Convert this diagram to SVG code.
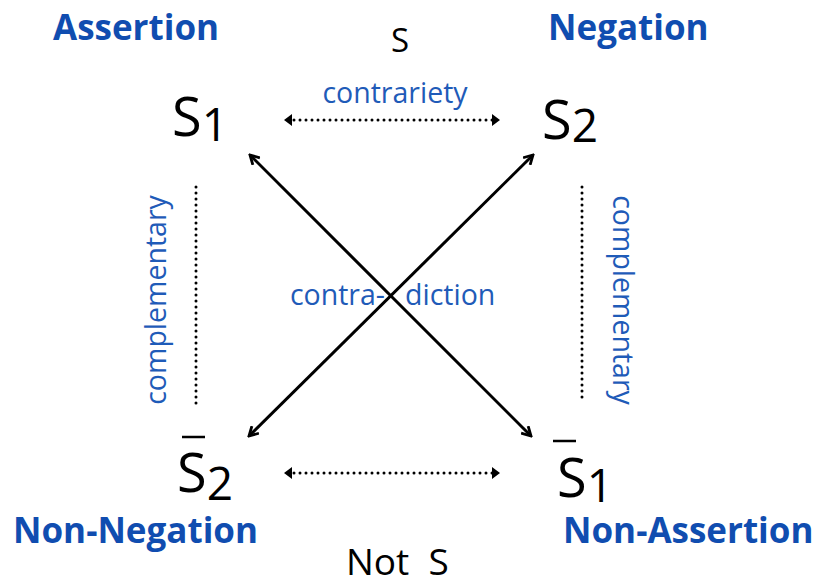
<svg xmlns="http://www.w3.org/2000/svg" width="819" height="580" viewBox="0 0 819 580">
<defs>
<style>
.title{font-family:"Open Sans","Noto Sans",sans-serif;font-weight:bold;font-size:35px;fill:#104db0}
.lab{font-family:"Open Sans","Noto Sans",sans-serif;font-size:28.5px;fill:#1f5bb8}
.sym{font-family:"Open Sans","Noto Sans",sans-serif;fill:#000}
.dot{stroke:#000;stroke-width:3;stroke-linecap:round;stroke-dasharray:0 6;fill:none}
.arr{stroke:#000;stroke-width:3;fill:none}
</style>
<marker id="open" viewBox="0 0 12 12" refX="10" refY="6" markerWidth="12" markerHeight="12" markerUnits="userSpaceOnUse" orient="auto-start-reverse">
<path d="M1,1 L10,6 L1,11" fill="none" stroke="#000" stroke-width="2.8"/>
</marker>
</defs>
<rect width="819" height="580" fill="#fff"/>
<g id="connectors">
<line class="arr" x1="531" y1="436" x2="250" y2="155" marker-start="url(#open)" marker-end="url(#open)"/>
<line class="arr" x1="249" y1="436" x2="533" y2="155" marker-start="url(#open)" marker-end="url(#open)"/>
<line class="dot" x1="288" y1="120" x2="495" y2="120"/>
<path d="M284,120 L292,114 L292,126 Z M500,120 L492,114 L492,126 Z" fill="#000"/>
<line class="dot" x1="288" y1="473" x2="495" y2="473"/>
<path d="M284,473 L292,467 L292,479 Z M500,473 L492,467 L492,479 Z" fill="#000"/>
<line class="dot" x1="196" y1="187" x2="196" y2="405"/>
<line class="dot" x1="582" y1="187" x2="582" y2="403"/>
<text class="lab" x="395" y="103" text-anchor="middle">contrariety</text>
<text class="lab" transform="translate(166,300) rotate(-90)" text-anchor="middle">complementary</text>
<text class="lab" transform="translate(613,300) rotate(90)" text-anchor="middle">complementary</text>
<text class="lab" x="385" y="305" text-anchor="end">contra-</text>
<text class="lab" x="405" y="305">diction</text>
</g>
<g id="assertion"><text class="title" x="53" y="40">Assertion</text></g>
<g id="negation"><text class="title" x="548" y="40">Negation</text></g>
<g id="non-negation"><text class="title" x="13" y="543">Non-Negation</text></g>
<g id="non-assertion"><text class="title" x="563" y="543">Non-Assertion</text></g>
<g id="s-top"><text class="sym" x="400" y="52" font-size="33" text-anchor="middle">S</text></g>
<g id="not-s"><text class="sym" x="346" y="575" font-size="37" xml:space="preserve">Not  S</text></g>
<g id="s1"><text class="sym" x="172" y="136" font-size="54">S<tspan font-size="46" dy="5">1</tspan></text></g>
<g id="s2"><text class="sym" x="542" y="139" font-size="54">S<tspan font-size="46" dy="3">2</tspan></text></g>
<g id="s2bar"><text class="sym" x="177" y="492" font-size="54">S<tspan font-size="46" dy="8">2</tspan></text><line x1="182" y1="437" x2="205" y2="437" stroke="#000" stroke-width="2.5"/></g>
<g id="s1bar"><text class="sym" x="557" y="497" font-size="54">S<tspan font-size="46" dy="5">1</tspan></text><line x1="553" y1="441" x2="576" y2="441" stroke="#000" stroke-width="2.5"/></g>
</svg>
